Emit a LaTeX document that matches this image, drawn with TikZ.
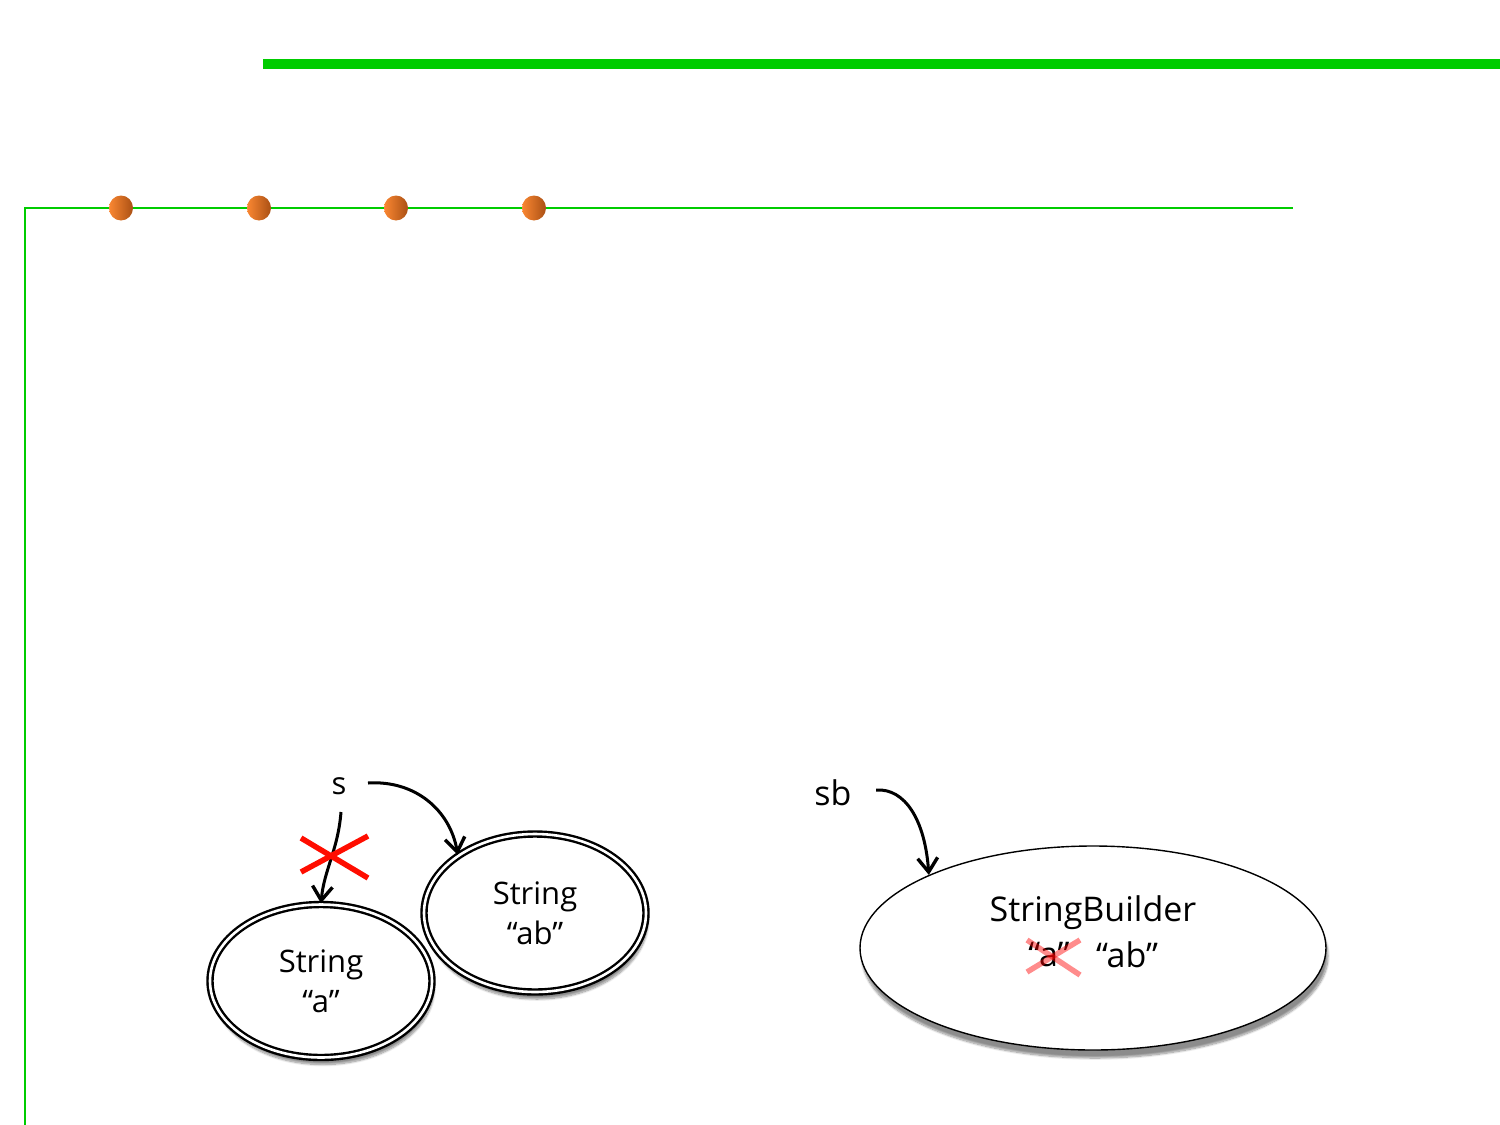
\documentclass[tikz,border=0pt]{standalone}
\usepackage{fontspec}
\setmainfont{Open Sans}
\usetikzlibrary{arrows.meta,shadows.blur,shapes.geometric}
\definecolor{lgreen}{RGB}{0,204,0}
\definecolor{dotL}{RGB}{250,135,50}
\definecolor{dotR}{RGB}{170,80,20}
\tikzset{
  obj/.style={ellipse, draw, fill=white, line width=2.4pt, double, double distance=2.6pt,
    blur shadow={shadow xshift=2pt, shadow yshift=-7pt, shadow blur steps=10, shadow opacity=45},
    align=center, font=\fontsize{31}{40}\selectfont},
  bigobj/.style={ellipse, draw, fill=white, line width=1.4pt,
    blur shadow={shadow xshift=2pt, shadow yshift=-8pt, shadow blur steps=10, shadow opacity=45}},
  lab/.style={font=\fontsize{31}{36}\selectfont, inner sep=0pt},
  ref/.style={-{Straight Barb[length=14pt,width=20pt,line width=3.4pt]}, line width=3pt},
  dot/.style={ellipse, minimum width=24pt, minimum height=25pt, inner sep=0pt,
    left color=dotL, right color=dotR},
  redx/.style={red!90!orange, line width=5.5pt},
  pinkx/.style={red, opacity=0.45, line width=5.5pt},
}
\begin{document}
\begin{tikzpicture}[x=1pt,y=-1pt]
\useasboundingbox (0,0) rectangle (1500,1125);
% top bar
\coordinate (tb1) at (263,64);
\coordinate (tb2) at (1500,64);
\draw[lgreen, line width=10pt] (tb1) -- (tb2);
% frame line
\coordinate (fbot) at (25,1125);
\coordinate (fcorner) at (25,208);
\coordinate (fright) at (1293,208);
\draw[lgreen, line width=2pt] (fbot) -- (fcorner) -- (fright);
% dots
\node[dot] (d1) at (121,208) {};
\node[dot] (d2) at (259,208) {};
\node[dot] (d3) at (396,208) {};
\node[dot] (d4) at (534,208) {};
% String objects
\node[obj, minimum width=222pt, minimum height=153pt] (sa) at (321,981) {String\\“a”};
\node[obj, minimum width=222pt, minimum height=158pt] (sab) at (535,913) {String\\“ab”};
% s reference
\node[lab] (s) at (339,786) {s};
\coordinate (s1) at (368,783);
\coordinate (s2) at (341,812);
\draw[ref] (s1) .. controls (415,780) and (450,810) .. (sab.143);
\draw[ref] (s2) .. controls (338,850) and (324,870) .. (sa.north);
% red X
\coordinate (x1) at (301,838);
\coordinate (x2) at (368,878);
\coordinate (x3) at (301,872);
\coordinate (x4) at (368,836);
\draw[redx] (x1) -- (x2);
\draw[redx] (x3) -- (x4);
% StringBuilder
\node[bigobj, minimum width=466pt, minimum height=204pt] (sbo) at (1093,948) {};
\node[lab, font=\fontsize{34}{40}\selectfont] (sbt) at (1093,913) {StringBuilder};
\node[lab, font=\fontsize{34}{40}\selectfont] (va) at (1049,955) {“a”};
\node[lab, font=\fontsize{34}{40}\selectfont] (vab) at (1127,955) {“ab”};
\node[lab, font=\fontsize{34}{40}\selectfont] (sb) at (833,793) {sb};
\coordinate (sb1) at (876,790);
\draw[ref] (sb1) .. controls (905,788) and (925,820) .. (sbo.156);
\coordinate (y1) at (1027,940);
\coordinate (y2) at (1080,975);
\coordinate (y3) at (1027,972);
\coordinate (y4) at (1080,940);
\draw[pinkx] (y1) -- (y2);
\draw[pinkx] (y3) -- (y4);
\end{tikzpicture}
\end{document}
